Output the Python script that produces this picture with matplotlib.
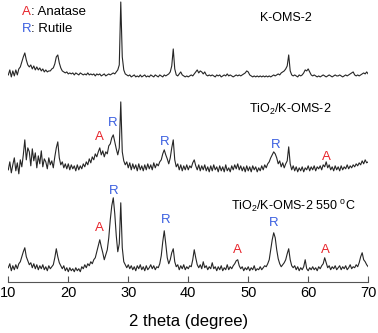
import numpy as np
import matplotlib
matplotlib.use("Agg")
import matplotlib.pyplot as plt

plt.rcParams['font.family'] = ['Liberation Sans', 'DejaVu Sans']
plt.rcParams['mathtext.fontset'] = 'custom'
plt.rcParams['mathtext.rm'] = 'Liberation Sans'
plt.rcParams['mathtext.it'] = 'Liberation Sans'

RED = '#e8262d'
BLUE = '#3a5fe0'
LINE = '#262626'

# 2 theta sampling (degree)
two_theta = np.arange(10.0, 70.001, 0.25)

# intensities (a.u.), one row = 5 degrees
tio2_550 = [
    14, 18, 11, 16, 12, 17, 13, 18, 20, 25, 30, 34, 25, 21, 17, 19, 14, 18, 13, 17,
    12, 16, 13, 17, 12, 15, 11, 16, 13, 15, 17, 24, 33, 25, 19, 16, 13, 16, 11, 14,
    10, 14, 11, 13, 10, 14, 11, 13, 10, 15, 13, 17, 14, 18, 16, 20, 18, 22, 24, 30,
    36, 42, 35, 29, 22, 27, 32, 44, 62, 76, 84, 68, 46, 30, 38, 79, 34, 20, 17, 14,
    17, 13, 16, 12, 15, 11, 16, 13, 17, 12, 15, 11, 16, 12, 14, 17, 13, 16, 12, 15,
    14, 18, 26, 40, 51, 38, 24, 18, 22, 29, 33, 20, 15, 17, 12, 16, 13, 17, 12, 15,
    13, 16, 15, 22, 32, 24, 17, 14, 17, 13, 20, 14, 16, 12, 15, 13, 19, 13, 15, 11,
    15, 12, 16, 11, 14, 12, 17, 12, 15, 13, 16, 18, 21, 22, 16, 13, 15, 11, 14, 12,
    15, 11, 14, 12, 16, 11, 13, 12, 15, 12, 14, 16, 15, 18, 22, 32, 42, 49, 44, 32,
    23, 18, 15, 17, 19, 22, 28, 33, 22, 16, 14, 16, 12, 15, 11, 14, 12, 15, 22, 13,
    11, 14, 12, 15, 12, 14, 11, 15, 13, 16, 18, 24, 19, 14, 16, 12, 15, 13, 16, 12,
    14, 16, 12, 15, 13, 16, 12, 14, 17, 13, 15, 14, 17, 15, 19, 25, 29, 22, 20, 17,
    15,
]

tio2_koms = [
    12, 20, 9, 17, 24, 11, 19, 8, 22, 15, 27, 42, 22, 34, 30, 16, 33, 21, 29, 14,
    26, 18, 31, 15, 23, 20, 13, 24, 17, 21, 14, 25, 34, 40, 24, 17, 20, 14, 18, 13,
    18, 12, 17, 13, 16, 11, 17, 12, 16, 13, 18, 15, 20, 17, 23, 19, 25, 22, 28, 25,
    30, 34, 27, 31, 25, 30, 28, 36, 38, 44, 47, 40, 33, 27, 34, 80, 30, 21, 17, 20,
    14, 19, 12, 18, 13, 17, 11, 18, 12, 16, 11, 17, 12, 18, 13, 17, 12, 19, 14, 18,
    16, 20, 22, 28, 32, 27, 23, 18, 24, 34, 42, 22, 15, 18, 12, 17, 11, 16, 12, 17,
    12, 16, 14, 19, 22, 16, 12, 17, 11, 16, 12, 17, 11, 15, 10, 16, 11, 17, 12, 15,
    10, 16, 11, 15, 10, 17, 11, 14, 10, 16, 12, 17, 13, 18, 12, 16, 11, 15, 10, 16,
    11, 15, 10, 16, 12, 15, 10, 14, 11, 16, 12, 17, 14, 18, 20, 24, 27, 30, 28, 24,
    18, 21, 15, 19, 14, 18, 21, 35, 18, 12, 16, 11, 15, 10, 14, 11, 15, 10, 14, 12,
    16, 11, 15, 12, 16, 11, 15, 13, 16, 12, 17, 15, 20, 14, 17, 12, 15, 11, 16, 12,
    15, 11, 16, 12, 15, 13, 17, 13, 16, 14, 17, 15, 18, 16, 19, 17, 21, 18, 22, 19,
    20,
]

k_oms2 = [
    12, 17, 10, 16, 11, 17, 12, 18, 20, 25, 30, 34, 27, 22, 20, 22, 18, 21, 17, 20,
    17, 19, 16, 18, 15, 17, 15, 16, 16, 18, 19, 23, 30, 32, 24, 19, 16, 15, 14, 15,
    13, 14, 13, 14, 12, 14, 13, 12, 14, 13, 12, 13, 12, 14, 12, 13, 12, 13, 11, 13,
    12, 13, 11, 12, 13, 11, 12, 13, 12, 13, 14, 13, 15, 17, 22, 85, 30, 17, 13, 12,
    11, 12, 10, 11, 12, 10, 11, 10, 12, 10, 11, 12, 10, 11, 10, 12, 11, 10, 12, 11,
    10, 12, 11, 10, 12, 11, 12, 13, 15, 21, 38, 18, 12, 11, 13, 15, 12, 11, 10, 11,
    10, 11, 12, 11, 13, 15, 17, 14, 16, 15, 13, 15, 12, 11, 12, 11, 12, 11, 10, 12,
    11, 12, 10, 11, 12, 11, 13, 11, 12, 11, 10, 11, 12, 11, 12, 11, 12, 13, 14, 16,
    15, 12, 11, 10, 11, 10, 11, 10, 11, 10, 11, 10, 11, 10, 11, 10, 11, 12, 11, 12,
    13, 12, 14, 15, 16, 18, 21, 32, 16, 12, 11, 12, 11, 10, 12, 11, 12, 14, 17, 16,
    18, 15, 12, 11, 12, 11, 10, 11, 10, 11, 12, 11, 10, 11, 12, 11, 10, 11, 12, 11,
    11, 12, 11, 10, 11, 12, 11, 12, 13, 14, 15, 12, 11, 12, 11, 12, 13, 14, 13, 15,
    13,
]

# vertical stacking of the three patterns
offsets = [0, 100, 195]
sample_names = ["TiO$_2$/K-OMS-2 550 $^{o}$C", "TiO$_2$/K-OMS-2", "K-OMS-2"]
name_pos = [(57.5, 75), (57.0, 172), (56.3, 264)]

# phase markers: (2theta, y, letter)
markers_mid = [(25.2, 145, "A"), (27.4, 159, "R"), (36.0, 140, "R"),
               (54.5, 137, "R"), (63.0, 125, "A")]
markers_low = [(25.2, 54, "A"), (27.5, 91, "R"), (36.3, 62, "R"),
               (48.2, 32, "A"), (54.3, 59, "R"), (62.8, 32, "A")]
phase_color = {"A": RED, "R": BLUE}

fig = plt.figure(figsize=(3.78, 3.33), dpi=100)
ax = fig.add_axes([0.022, 0.154, 0.952, 0.846])

for vals, off in zip([tio2_550, tio2_koms, k_oms2], offsets):
    ax.plot(two_theta, np.array(vals) + off, color=LINE, lw=0.8)

for name, (x, y) in zip(sample_names, name_pos):
    ax.text(x, y, name, ha="center", va="center", fontsize=9)

for x, y, s in markers_mid + markers_low:
    ax.text(x, y, s, ha="center", va="center", fontsize=9.5, color=phase_color[s])

# legend text
ax.text(12.2, 270, "A", color=RED, fontsize=9.5, va="center")
ax.text(13.8, 270, ": Anatase", color="black", fontsize=9.5, va="center")
ax.text(12.2, 253, "R", color=BLUE, fontsize=9.5, va="center")
ax.text(13.8, 253, ": Rutile", color="black", fontsize=9.5, va="center")

ax.set_xlim(10, 70)
ax.set_ylim(0, 282)
ax.set_xticks([10, 20, 30, 40, 50, 60, 70])
ax.set_yticks([])
for side in ["left", "right", "top"]:
    ax.spines[side].set_visible(False)
ax.spines["bottom"].set_color("#555555")
ax.tick_params(axis="x", direction="in", length=4, labelsize=10.5, pad=3, color="#555555")
ax.set_xlabel("2 theta (degree)", fontsize=12, labelpad=10)

fig.savefig("out.png", dpi=100)
